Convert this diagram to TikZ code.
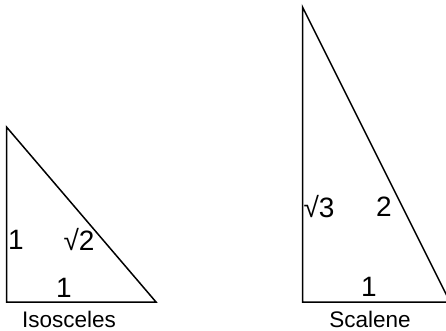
\documentclass[tikz,border=0pt]{standalone}
\usepackage{fontspec}
\setmainfont{Liberation Sans}
\usetikzlibrary{positioning}

\begin{document}
\begin{tikzpicture}[x=1pt,y=-1pt,
    side/.style={font=\fontsize{28}{28}\selectfont,inner sep=0pt},
    caption/.style={font=\fontsize{22.5}{22.5}\selectfont,inner sep=0pt}]
  \useasboundingbox (0,0) rectangle (446,331);
  % isosceles
  \coordinate (IT) at (6.5,127);
  \coordinate (IL) at (6.5,302);
  \coordinate (IR) at (156,302);
  \draw[line width=1.5pt,line join=miter] (IT) -- (IL) -- (IR) -- cycle;
  \node[side] (I1) at (16,240) {1};
  \node[side] (I2) at (79,240) {√2};
  \node[side] (I3) at (64,288) {1};
  \node[caption] (Iname) at (69,319) {Isosceles};
  % scalene
  \coordinate (ST) at (302.5,7);
  \coordinate (SL) at (302.5,302);
  \coordinate (SR) at (450,302);
  \draw[line width=1.5pt,line join=miter] (ST) -- (SL) -- (SR) -- cycle;
  \node[side] (S1) at (319,207) {√3};
  \node[side] (S2) at (384,207) {2};
  \node[side] (S3) at (369,287) {1};
  \node[caption] (Sname) at (370,319) {Scalene};
\end{tikzpicture}
\end{document}
